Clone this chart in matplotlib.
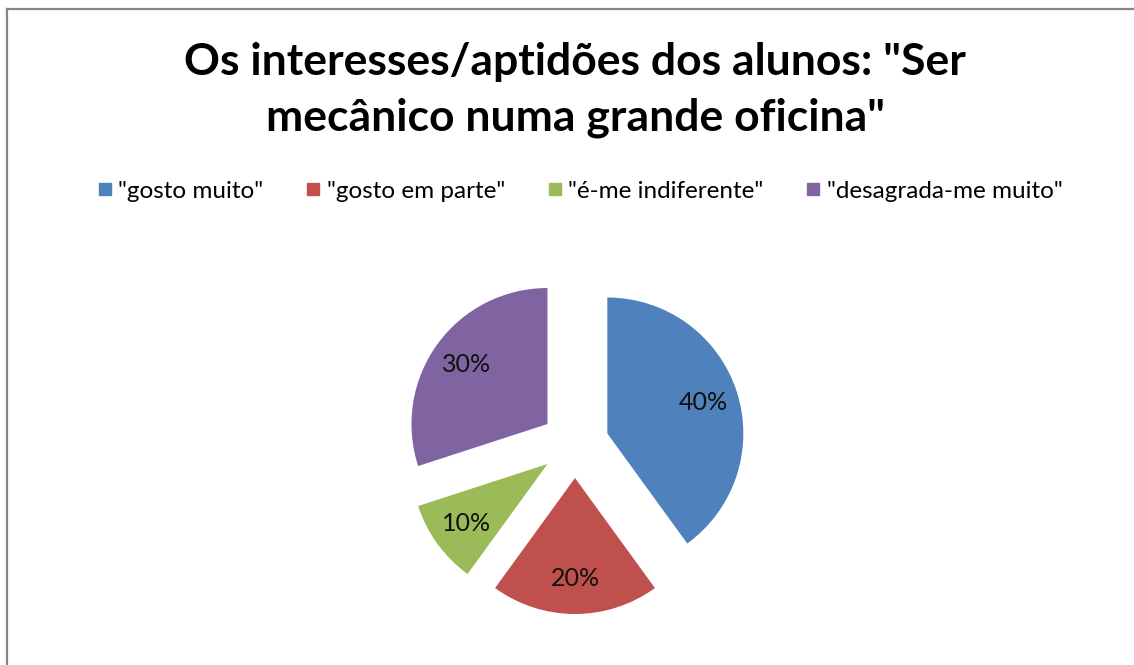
import matplotlib
matplotlib.use("Agg")
import matplotlib.pyplot as plt
from matplotlib.lines import Line2D

title = 'Os interesses/aptidões dos alunos: "Ser\nmecânico numa grande oficina"'
categories = ['"gosto muito"', '"gosto em parte"', '"é-me indiferente"', '"desagrada-me muito"']
values = [40, 20, 10, 30]
colors = ['#4F81BD', '#C0504D', '#9BBB59', '#8064A2']

W, H = 1134, 665
fig = plt.figure(figsize=(W / 100, H / 100), dpi=100)
fig.patch.set_facecolor('white')

# pie axes placed in pixels: centre (575, 444), radius 136 px
L = 1.6
r_px = 136
cx, cy = 575, 444
size = 2 * L * r_px
ax = fig.add_axes([(cx - size / 2) / W, (H - cy - size / 2) / H, size / W, size / H])
wedges, texts, autotexts = ax.pie(
    values, colors=colors, startangle=90, counterclock=False,
    explode=[0.25] * len(values),
    autopct=lambda p: '%.0f%%' % p, pctdistance=0.74,
    textprops={'fontsize': 18, 'family': 'Lato', 'color': '#111111'},
    wedgeprops={'linewidth': 0})
ax.set_xlim(-L, L)
ax.set_ylim(-L, L)
ax.set_aspect('equal')
ax.axis('off')

fig.text(cx / W, 1 - 90 / H, title, ha='center', va='center',
         fontsize=32, fontweight='bold', family='Lato', linespacing=1.45)

handles = [Line2D([], [], marker='s', linestyle='none', markersize=8.5,
                  markerfacecolor=c, markeredgecolor=c) for c in colors]
fig.legend(handles, categories, loc='center', bbox_to_anchor=(580 / W, 1 - 191 / H),
           ncol=4, frameon=False, prop={'family': 'Lato', 'size': 17.5},
           handlelength=0.6, handletextpad=0.25, columnspacing=1.75)

# outer chart border (only top and left visible in the crop)
fig.add_artist(Line2D([7 / W, 1], [1 - 9 / H, 1 - 9 / H], transform=fig.transFigure,
                      color='#868686', linewidth=1.6))
fig.add_artist(Line2D([7 / W, 7 / W], [0, 1 - 9 / H], transform=fig.transFigure,
                      color='#868686', linewidth=1.6))

fig.savefig('out.png', dpi=100)
